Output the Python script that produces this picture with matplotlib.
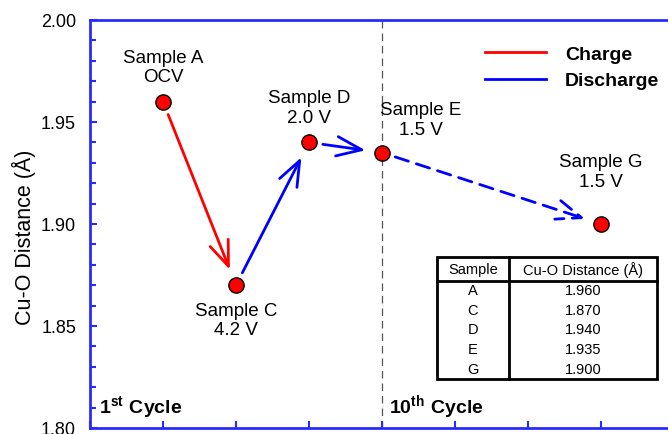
import numpy as np
import matplotlib
matplotlib.use('Agg')
import matplotlib.pyplot as plt
from matplotlib.ticker import MultipleLocator, FormatStrFormatter
from matplotlib.patches import Rectangle

plt.rcParams['font.family'] = ['Liberation Sans', 'DejaVu Sans']
plt.rcParams['mathtext.fontset'] = 'custom'
plt.rcParams['mathtext.rm'] = 'Liberation Sans'
plt.rcParams['mathtext.bf'] = 'Liberation Sans:bold'

# sample positions along the cycling sequence and Cu-O distances
samples = ['A', 'C', 'D', 'E', 'G']
xpos = [1, 2, 3, 4, 7]
dist = [1.960, 1.870, 1.940, 1.935, 1.900]
labels = ['Sample A\nOCV', 'Sample C\n4.2 V', 'Sample D\n2.0 V', 'Sample E\n1.5 V', 'Sample G\n1.5 V']

axcol = '#2a2aff'
W, H = 668, 435
L, B, R, T = 90, 429, 674, 21   # axes box in pixels

fig = plt.figure(figsize=(W/100, H/100), dpi=100)
ax = fig.add_axes([L/W, (H-B)/H, (R-L)/W, (B-T)/H])

ax.set_xlim(0, 8)
ax.set_ylim(1.80, 2.00)
ax.yaxis.set_major_locator(MultipleLocator(0.05))
ax.yaxis.set_minor_locator(MultipleLocator(0.01))
ax.xaxis.set_major_locator(MultipleLocator(1))
ax.set_xticklabels([])
ax.yaxis.set_major_formatter(FormatStrFormatter('%.2f'))
ax.tick_params(axis='both', which='both', direction='in', color=axcol, width=1.5)
ax.tick_params(axis='both', which='major', length=5, labelsize=13, pad=10)
ax.tick_params(axis='y', which='minor', length=4)
for s in ax.spines.values():
    s.set_color(axcol)
    s.set_linewidth(2)
ax.set_ylabel('Cu-O Distance (Å)', fontsize=15.5)
ax.yaxis.set_label_coords(-0.092, 0.47)

# cycle separator
ax.axvline(xpos[3], color='#555555', lw=0.9, ls=(0, (6, 4)), zorder=1)

# arrows between samples
def arrow(i, j, col, ls='-'):
    ax.annotate('', xy=(xpos[j], dist[j]), xytext=(xpos[i], dist[i]),
                arrowprops=dict(arrowstyle='->,head_length=0.9,head_width=0.35',
                                color=col, lw=2, ls=ls, mutation_scale=20,
                                shrinkA=10, shrinkB=12), zorder=2)

arrow(0, 1, '#ff0000')
arrow(1, 2, '#0000ff')
arrow(2, 3, '#0000ff')
arrow(3, 4, '#0000ff', ls=(0, (5, 3)))

ax.plot(xpos, dist, ls='none', marker='o', ms=11, mfc='#ff0000', mec='black', mew=1, zorder=3)

offs = [(0, 25), (0, -25), (0, 25), (28, 24), (0, 38)]
for x, y, t, (dx, dy) in zip(xpos, dist, labels, offs):
    ax.annotate(t, (x, y), xytext=(dx, dy), textcoords='offset points',
                ha='center', va='center', fontsize=13.5, linespacing=1.2)

ax.text(0.13, 1.808, r'$\mathbf{1^{st}\ Cycle}$', fontsize=14)
ax.text(4.1, 1.808, r'$\mathbf{10^{th}\ Cycle}$', fontsize=14)

# legend
ax.plot([], [], color='#ff0000', lw=2, label='Charge')
ax.plot([], [], color='#0000ff', lw=2, label='Discharge')
ax.legend(loc='upper left', bbox_to_anchor=((468-L)/(R-L), (B-29)/(B-T)), frameon=False,
          handlelength=3.1, handletextpad=1.0, labelspacing=0.45,
          prop={'weight': 'bold', 'size': 14})

# data table, drawn in pixel coordinates
def fx(px):
    return (px - L) / (R - L)

def fy(py):
    return (B - py) / (B - T)

tl, tm, tr = 437, 509, 657
tt, th, tb = 258, 282, 380
lk = dict(transform=ax.transAxes, color='black', lw=2, solid_capstyle='projecting', zorder=5)
ax.add_patch(Rectangle((fx(tl), fy(tb)), fx(tr) - fx(tl), fy(tt) - fy(tb),
                       transform=ax.transAxes, fc='white', ec='black', lw=2, zorder=4))
ax.plot([fx(tm), fx(tm)], [fy(tt), fy(tb)], **lk)
ax.plot([fx(tl), fx(tr)], [fy(th), fy(th)], **lk)
tk = dict(transform=ax.transAxes, ha='center', va='center', fontsize=10.5, zorder=6)
ax.text(fx((tl + tm) / 2), fy((tt + th) / 2), 'Sample', **tk)
ax.text(fx((tm + tr) / 2), fy((tt + th) / 2), 'Cu-O Distance (Å)', **tk)
row_h = (tb - th - 19) / (len(samples) - 1)
for k, (s, d) in enumerate(zip(samples, dist)):
    py = th + 9 + row_h * k
    ax.text(fx((tl + tm) / 2), fy(py), s, **tk)
    ax.text(fx((tm + tr) / 2), fy(py), '%.3f' % d, **tk)

fig.savefig('out.png', dpi=100)
